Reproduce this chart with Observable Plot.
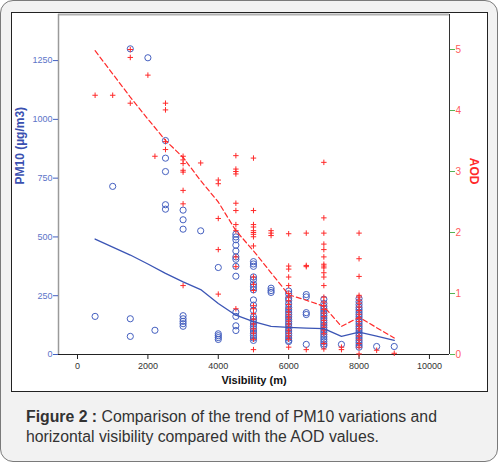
<!DOCTYPE html>
<html>
<head>
<meta charset="utf-8">
<script src="https://cdn.jsdelivr.net/npm/d3@7"></script>
<script src="https://cdn.jsdelivr.net/npm/@observablehq/plot@0.6"></script>
<style>
  body { margin: 0; background: #fff; }
  #wrap { position: relative; width: 499px; height: 463px; overflow: hidden; }
  #panel { position: absolute; left: 0; top: 0; width: 496px; height: 460px; background: #f2f2f2; border: 1.5px solid #7a7a7a; border-radius: 13px; }
  #box { position: absolute; left: 11px; top: 12px; width: 475px; height: 378px; background: #fff; border: 1px solid #222; }
  #chart { position: absolute; left: 0; top: 0; }
  #caption { position: absolute; left: 26px; top: 407px; font: 15.8px "Liberation Sans", Arial, sans-serif; color: #333; line-height: 19.5px; }
</style>
</head>
<body>
<div id="wrap">
  <div id="panel"></div>
  <div id="box"></div>
  <div id="chart"></div>
  <div id="caption"><b>Figure 2 :</b> Comparison of the trend of PM10 variations and<br>horizontal visibility compared with the AOD values.</div>
</div>
<script>
// ---- data ----
const pm10Columns = [
  [500, [162]],
  [1000, [715]],
  [1500, [1300, 152, 77]],
  [2000, [1262]],
  [2200, [103]],
  [2500, [910, 835, 778, 637, 618]],
  [3000, [614, 573, 533, 165, 152, 141, 131, 120]],
  [3500, [526]],
  [4000, [370, 88, 80, 72, 64]],
  [4500, [512, 500, 488, 465, 440, 415, 405, 375, 333, 180, 162, 122, 102]],
  [5000, [395, 385, 375, 330, 318, 300, 288, 275, 232, 210, 188, 160, 150, 140, 130, 120, 110, 100, 90, 80, 70, 60]],
  [5500, [282, 272, 264]],
  [6000, [270, 258, 240, 230, 215, 200, 190, 180, 170, 160, 150, 140, 130, 120, 110, 100, 90, 80, 70, 60, 55]],
  [6500, [255, 245, 178, 170, 43]],
  [7000, [235, 217, 205, 195, 185, 175, 165, 155, 145, 135, 125, 115, 105, 95, 85, 75, 65, 55, 45, 38]],
  [7500, [43]],
  [8000, [238, 224, 212, 200, 190, 180, 170, 160, 150, 140, 130, 120, 110, 100, 90, 80, 70, 60, 50, 40, 31]],
  [8500, [34]],
  [9000, [34]]
];
const aodColumns = [
  [500, [4.25]],
  [1000, [4.25]],
  [1500, [5.0, 4.87, 4.12]],
  [2000, [4.58]],
  [2200, [3.25]],
  [2500, [4.12, 4.01, 3.49, 3.36]],
  [3000, [3.25, 3.19, 3.13, 3.02, 2.99, 2.69, 2.47, 1.13]],
  [3500, [3.14]],
  [4000, [2.86, 2.80, 2.23, 1.72, 0.99]],
  [4500, [3.26, 3.04, 3.0, 2.96, 2.48, 2.36, 2.13, 2.03, 1.60, 1.44, 0.75]],
  [5000, [3.22, 2.36, 2.13, 2.09, 2.03, 2.0, 1.97, 1.93, 1.78, 1.27, 1.15, 1.05, 0.8, 0.75, 0.67, 0.58, 0.5, 0.42, 0.35, 0.25, 0.08]],
  [5500, [2.03, 1.99, 1.95]],
  [6000, [1.98, 1.45, 1.40, 1.27, 1.13, 1.0, 0.94, 0.88, 0.82, 0.76, 0.7, 0.65, 0.6, 0.55, 0.5, 0.45, 0.4, 0.35, 0.3, 0.25, 0.12]],
  [6500, [1.99, 1.46, 1.44, 0.08]],
  [7000, [3.15, 2.24, 1.99, 1.81, 1.72, 1.60, 1.48, 1.45, 1.42, 1.34, 1.27, 1.13, 0.94, 0.86, 0.8, 0.74, 0.68, 0.62, 0.56, 0.5, 0.45, 0.4, 0.34, 0.18, 0.09]],
  [7500, [0.12, 0.08]],
  [8000, [1.99, 1.57, 1.28, 0.97, 0.94, 0.89, 0.84, 0.78, 0.72, 0.66, 0.6, 0.54, 0.48, 0.42, 0.36, 0.3, 0.24, 0.18, 0.12, 0.01]],
  [8500, [0.07]],
  [9000, [0.02]]
];
const trendVisibility = [500, 1000, 1500, 2000, 2500, 3000, 3500, 4000, 4500, 5000, 5500, 6000, 6500, 7000, 7500, 8000, 8500, 9000];
const pm10Trend = [491, 457, 423, 385, 345, 309, 276, 217, 167, 140, 120, 115, 112, 110, 77, 95, 78, 60];
const aodTrend = [4.98, 4.60, 4.22, 3.86, 3.51, 3.23, 2.85, 2.50, 2.03, 1.70, 1.34, 0.98, 0.89, 0.79, 0.46, 0.61, 0.44, 0.27];
const xTicks = [0, 2000, 4000, 6000, 8000, 10000];
const pm10Ticks = [0, 250, 500, 750, 1000, 1250];
const aodTicks = [0, 1, 2, 3, 4, 5];
const xDomain = [-540, 10570];
const pm10Max = 1446;
const aodMax = 5.574;

// ---- build tables ----
const k = pm10Max / aodMax; // maps AOD onto the PM10 scale
const pm10Points = pm10Columns.flatMap(([v, vals]) => vals.map(p => ({vis: v, pm: p})));
const aodPoints = aodColumns.flatMap(([v, vals]) => vals.map(a => ({vis: v, y: a * k})));
const pmLine = trendVisibility.map((v, i) => ({vis: v, pm: pm10Trend[i]}));
const aodLine = trendVisibility.map((v, i) => ({vis: v, y: aodTrend[i] * k}));

const blue = "#4560c0";
const red = "#ff2a2a";

const chart = Plot.plot({
  width: 499,
  height: 400,
  marginLeft: 58,
  marginRight: 50,
  marginTop: 14,
  marginBottom: 46,
  style: {fontFamily: "'Liberation Sans', Arial, sans-serif", fontSize: "9px", background: "transparent", overflow: "visible"},
  x: {domain: xDomain},
  y: {domain: [0, pm10Max]},
  marks: [
    Plot.ruleY([pm10Max], {stroke: "#b0b0b0", strokeWidth: 2}),
    Plot.ruleX([xDomain[0]], {stroke: "#9a9a9a", strokeWidth: 1.5}),
    Plot.ruleX([xDomain[1]], {stroke: "#333"}),
    Plot.ruleY([0], {stroke: "#222"}),
    Plot.axisX(xTicks, {tickSize: 5, tickPadding: 3, stroke: "#222", fill: "#333", tickFormat: d => String(d), label: null, fontSize: 9}),
    Plot.axisY(pm10Ticks, {anchor: "left", tickSize: 5, tickPadding: 1, stroke: blue, fill: "#5b74c8", tickFormat: d => String(d), label: null, fontSize: 9}),
    Plot.axisY(aodTicks.map(t => t * k), {anchor: "right", tickSize: 5, tickPadding: 1, stroke: "#55b455", fill: "#ff5a5a", tickFormat: d => String(Math.round(d / k)), label: null, fontSize: 10}),
    Plot.dot(pm10Points, {x: "vis", y: "pm", r: 3.1, stroke: blue, strokeWidth: 1, fill: "none"}),
    Plot.dot(aodPoints, {x: "vis", y: "y", symbol: "plus", r: 1.9, stroke: red, strokeWidth: 1}),
    Plot.line(pmLine, {x: "vis", y: "pm", stroke: "#3b55b5", strokeWidth: 1.3}),
    Plot.line(aodLine, {x: "vis", y: "y", stroke: red, strokeWidth: 1.2, strokeDasharray: "5,3"}),
    Plot.text(["PM10 (µg/m3)"], {frameAnchor: "left", rotate: -90, dx: -38, fill: "#3a50b0", fontWeight: "bold", fontSize: 12}),
    Plot.text(["AOD"], {frameAnchor: "right", rotate: 90, dx: 24, fill: red, fontWeight: "bold", fontSize: 12}),
    Plot.text(["Visibility (m)"], {frameAnchor: "bottom", dy: 29, fill: "#111", fontWeight: "bold", fontSize: 11})
  ]
});
document.getElementById("chart").appendChild(chart);
</script>
</body>
</html>
